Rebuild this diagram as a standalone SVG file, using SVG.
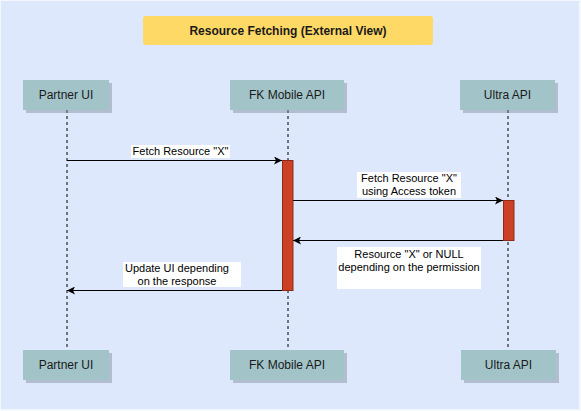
<svg xmlns="http://www.w3.org/2000/svg" width="581" height="411" viewBox="0 0 581 411">
<style>
.node{fill:#a2c4c9;}
.shadow{fill:#7f8a99;opacity:0.45;}
.ntext{font-family:"Liberation Sans",Arial,sans-serif;font-size:12px;fill:#1a1a1a;text-anchor:middle;}
.lbl{font-family:"Liberation Sans",Arial,sans-serif;font-size:11px;fill:#000;text-anchor:middle;}
.lblbg{fill:#ffffff;}
.life{stroke:#000;stroke-width:1;stroke-dasharray:3,3;fill:none;}
.msg{stroke:#000;stroke-width:1;fill:none;marker-end:url(#arr);}
.bar{fill:#cc4125;stroke:#8f2a18;stroke-width:1;}
</style>
<defs>
<marker id="arr" viewBox="0 0 10 10" refX="10" refY="5" markerWidth="8" markerHeight="8" markerUnits="userSpaceOnUse" orient="auto">
<path d="M0,0 L10,5 L0,10 L2.5,5 Z" fill="#000"/>
</marker>
</defs>
<rect x="0" y="0" width="581" height="411" fill="#f4f7fd"/>
<rect x="1" y="1" width="578" height="408" fill="#dde8fc"/>
<g id="title">
<rect x="143" y="16" width="290" height="29" rx="3" fill="#ffd966"/>
<text x="288" y="34.5" font-family="Liberation Sans, Arial, sans-serif" font-size="12" font-weight="bold" text-anchor="middle" fill="#1a1a1a">Resource Fetching (External View)</text>
</g>
<g id="lifelines">
<line class="life" x1="67" y1="110" x2="67" y2="350"/>
<line class="life" x1="288" y1="110" x2="288" y2="350"/>
<line class="life" x1="508" y1="110" x2="508" y2="350"/>
</g>
<g id="partner-ui-top">
<rect class="shadow" x="26" y="83" width="86" height="30"/>
<rect class="node" x="23" y="80" width="86" height="30"/>
<text class="ntext" x="66" y="99">Partner UI</text>
</g>
<g id="fk-mobile-api-top">
<rect class="shadow" x="233" y="83" width="114" height="30"/>
<rect class="node" x="230" y="80" width="114" height="30"/>
<text class="ntext" x="287" y="99">FK Mobile API</text>
</g>
<g id="ultra-api-top">
<rect class="shadow" x="463" y="83" width="95" height="30"/>
<rect class="node" x="460" y="80" width="95" height="30"/>
<text class="ntext" x="507.5" y="99">Ultra API</text>
</g>
<g id="partner-ui-bottom">
<rect class="shadow" x="26" y="353" width="86" height="30"/>
<rect class="node" x="23" y="350" width="86" height="30"/>
<text class="ntext" x="66" y="369">Partner UI</text>
</g>
<g id="fk-mobile-api-bottom">
<rect class="shadow" x="233" y="353" width="114" height="30"/>
<rect class="node" x="230" y="350" width="114" height="30"/>
<text class="ntext" x="287" y="369">FK Mobile API</text>
</g>
<g id="ultra-api-bottom">
<rect class="shadow" x="464" y="353" width="95" height="30"/>
<rect class="node" x="461" y="350" width="95" height="30"/>
<text class="ntext" x="508.5" y="369">Ultra API</text>
</g>
<g id="fk-activation">
<rect class="bar" x="282.5" y="160.5" width="10.5" height="130"/>
</g>
<g id="ultra-activation">
<rect class="bar" x="503.5" y="200.5" width="10.5" height="40"/>
</g>
<g id="connectors">
<line class="msg" x1="67" y1="160.5" x2="282" y2="160.5"/>
<line class="msg" x1="293" y1="200.5" x2="503" y2="200.5"/>
<line class="msg" x1="503" y1="240.5" x2="293" y2="240.5"/>
<line class="msg" x1="282" y1="290.5" x2="67" y2="290.5"/>
</g>
<g id="labels">
<rect class="lblbg" x="131" y="145" width="99" height="13"/>
<text class="lbl" x="180.5" y="155">Fetch Resource "X"</text>
<rect class="lblbg" x="357" y="172" width="104" height="26"/>
<text class="lbl" x="409" y="181.5">Fetch Resource "X"</text>
<text class="lbl" x="409" y="194.5">using Access token</text>
<rect class="lblbg" x="337" y="247" width="144" height="42"/>
<text class="lbl" x="409" y="257.5">Resource "X" or NULL</text>
<text class="lbl" x="409" y="270.5">depending on the permission</text>
<rect class="lblbg" x="123" y="262" width="118" height="25"/>
<text class="lbl" x="177" y="271.5">Update UI depending</text>
<text class="lbl" x="177" y="284.5">on the response</text>
</g>
</svg>
